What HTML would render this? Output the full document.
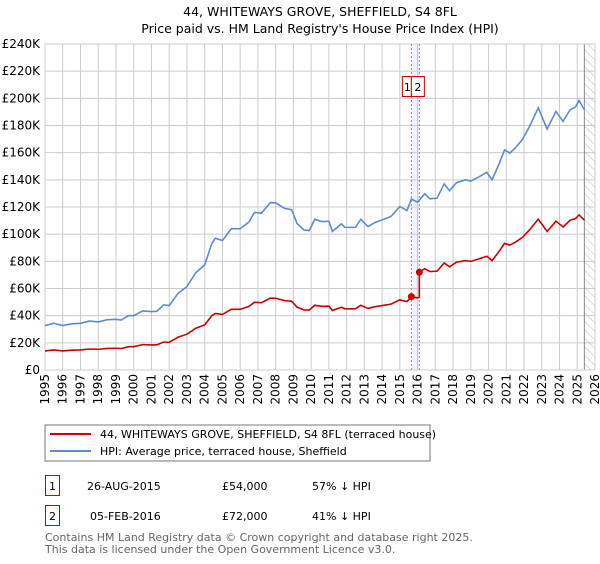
<!DOCTYPE html>
<html><head><meta charset="utf-8"><style>
body{margin:0;background:#fff;width:600px;height:560px;overflow:hidden;font-family:"DejaVu Sans","Liberation Sans",sans-serif;}
svg text{font-family:"DejaVu Sans","Liberation Sans",sans-serif;}
</style></head><body>
<svg id="chart" width="600" height="560" xmlns="http://www.w3.org/2000/svg">
<defs><pattern id="hatch" width="6" height="6" patternUnits="userSpaceOnUse" patternTransform="rotate(-45)"><line x1="0" y1="0" x2="0" y2="6" stroke="#bbb" stroke-width="1"/></pattern></defs>
<text x="320" y="16" text-anchor="middle" font-size="12.5" fill="#000">44, WHITEWAYS GROVE, SHEFFIELD, S4 8FL</text>
<text x="320" y="33" text-anchor="middle" font-size="12.5" fill="#000">Price paid vs. HM Land Registry's House Price Index (HPI)</text>
<g id="grid"></g><g id="marks"></g><g id="axes"></g>
<rect x="45" y="425" width="385" height="36" fill="#fff" stroke="#777"/>
<line x1="50" y1="434" x2="91" y2="434" stroke="#cc0000" stroke-width="2"/>
<text x="100" y="438" font-size="11">44, WHITEWAYS GROVE, SHEFFIELD, S4 8FL (terraced house)</text>
<line x1="50" y1="451" x2="91" y2="451" stroke="#5b8bd0" stroke-width="2"/>
<text x="100" y="455" font-size="11">HPI: Average price, terraced house, Sheffield</text>
<g>
<rect x="45.5" y="475.5" width="14" height="20" fill="none" stroke="#cc0000"/><text x="52.5" y="490" text-anchor="middle" font-size="11">1</text>
<text x="87" y="490" font-size="11">26-AUG-2015</text><text x="222" y="490" font-size="11">£54,000</text><text x="312" y="490" font-size="11">57% ↓ HPI</text></g>
<g>
<rect x="45.5" y="505.5" width="14" height="20" fill="none" stroke="#cc0000"/><text x="52.5" y="520" text-anchor="middle" font-size="11">2</text>
<text x="90" y="520" font-size="11">05-FEB-2016</text><text x="222" y="520" font-size="11">£72,000</text><text x="312" y="520" font-size="11">41% ↓ HPI</text></g>
<text x="45" y="541" font-size="11" fill="#666">Contains HM Land Registry data © Crown copyright and database right 2025.</text>
<text x="45" y="553" font-size="11" fill="#666">This data is licensed under the Open Government Licence v3.0.</text>
</svg>
<script>
const yTicks=[0,20,40,60,80,100,120,140,160,180,200,220,240];
const xYears=[1995,1996,1997,1998,1999,2000,2001,2002,2003,2004,2005,2006,2007,2008,2009,2010,2011,2012,2013,2014,2015,2016,2017,2018,2019,2020,2021,2022,2023,2024,2025,2026];
const hpiDates=[1995.0,1995.5,1996.0,1996.5,1997.0,1997.5,1998.0,1998.5,1999.0,1999.3,1999.7,2000.0,2000.5,2001.0,2001.3,2001.7,2002.0,2002.5,2003.0,2003.5,2004.0,2004.4,2004.6,2005.0,2005.5,2006.0,2006.5,2006.8,2007.2,2007.7,2008.0,2008.5,2008.9,2009.2,2009.6,2009.9,2010.2,2010.6,2011.0,2011.2,2011.7,2011.9,2012.5,2012.8,2013.2,2013.6,2014.0,2014.5,2015.0,2015.4,2015.65,2016.0,2016.4,2016.7,2017.1,2017.5,2017.8,2018.2,2018.7,2019.0,2019.5,2019.9,2020.2,2020.6,2020.9,2021.2,2021.5,2021.9,2022.3,2022.8,2023.3,2023.8,2024.2,2024.6,2024.9,2025.1,2025.4];
const hpiValues=[32.7,34.4,32.7,34,34.4,36,35.4,37,37.3,36.8,40,40,43.5,43,43.2,48,47.4,56.5,61.4,71.7,77.4,93,97,95.3,104,104,109,116,115.5,123.3,123,119,118,108,103,102.7,111,109.3,109.5,102,107.6,105,105,111,105.6,108.6,110.5,113,120.4,117.4,125.8,123.6,129.7,126,126.5,137,132,138,140,139,142.5,145.5,140,152,162,159.7,163.4,169.5,179,193,177.4,190.4,183,191.6,193.6,198.5,191.6];
const saleDates=[2015.65,2016.10];
const salePrices=[54,72];
const saleLabels=["1","2"];
const NS="http://www.w3.org/2000/svg";
const X0=45,X1=595,Y0=370,Y1=44;
const xs=d=>X0+(d-1995)/(2026-1995)*(X1-X0);
const ys=v=>Y0-v/240*(Y0-Y1);
function mk(tag,attrs,parent){const e=document.createElementNS(NS,tag);for(const k in attrs)e.setAttribute(k,attrs[k]);parent.appendChild(e);return e;}
const grid=document.getElementById('grid'),marks=document.getElementById('marks'),axes=document.getElementById('axes');
function hpiAt(d){for(let i=0;i<hpiDates.length-1;i++){if(d>=hpiDates[i]&&d<=hpiDates[i+1]){const t=(d-hpiDates[i])/(hpiDates[i+1]-hpiDates[i]);return hpiValues[i]+t*(hpiValues[i+1]-hpiValues[i]);}}return hpiValues[hpiValues.length-1];}
// shading between sales
const sh=mk('rect',{x:xs(saleDates[0]),y:Y1,width:xs(saleDates[1])-xs(saleDates[0]),height:Y0-Y1,fill:'#eef3fc'},grid);


yTicks.forEach(v=>{
 const l=mk('line',{x1:X0,x2:X1,y1:ys(v),y2:ys(v),stroke:'#ccc','stroke-width':1},grid);
 
 
 const t=mk('text',{x:40,y:ys(v)+4,'text-anchor':'end','font-size':12},axes);
 t.textContent=v===0?'£0':'£'+v+'K';
 
 
});
xYears.forEach(y=>{
 const l=mk('line',{x1:xs(y),x2:xs(y),y1:Y1,y2:Y0,stroke:'#ccc','stroke-width':1},grid);
 
 
 const t=mk('text',{x:0,y:0,'text-anchor':'end','font-size':12,transform:`translate(${xs(y)+4},374) rotate(-90)`},axes);
 t.textContent=y;
 
 
});
// hatched future region
const lastD=hpiDates[hpiDates.length-1];
const hz=mk('rect',{x:xs(lastD),y:Y1,width:X1-xs(lastD),height:Y0-Y1,fill:'url(#hatch)'},grid);


const hl=mk('line',{x1:xs(lastD),x2:xs(lastD),y1:Y1,y2:Y0,stroke:'#888'},grid);


const ax=mk('rect',{x:X0,y:Y1,width:X1-X0,height:Y0-Y1,fill:'none',stroke:'#ccc'},grid);


// sale verticals
saleDates.forEach((d,i)=>{
 const l=mk('line',{x1:xs(d),x2:xs(d),y1:Y1,y2:Y0,stroke:'#ee6666','stroke-dasharray':'2,2'},marks);
 
 
});
// hpi line
const hp=mk('polyline',{points:hpiDates.map((d,i)=>xs(d)+','+ys(hpiValues[i])).join(' '),fill:'none',stroke:'#5b8bd0','stroke-width':1.6},marks);


// price line: indexed to sale prices
const h0=hpiAt(saleDates[0]),h1=hpiAt(saleDates[1]);
const pts=[];
hpiDates.forEach((d,i)=>{if(d<=saleDates[1])pts.push([d,hpiValues[i]*salePrices[0]/h0]);});
pts.push([saleDates[1],salePrices[0]*h1/h0]);
pts.push([saleDates[1],salePrices[1]]);
hpiDates.forEach((d,i)=>{if(d>saleDates[1])pts.push([d,hpiValues[i]*salePrices[1]/h1]);});
const pl=mk('polyline',{points:pts.map(p=>xs(p[0])+','+ys(p[1])).join(' '),fill:'none',stroke:'#cc0000','stroke-width':1.6},marks);


saleDates.forEach((d,i)=>{
 const c=mk('circle',{cx:xs(d),cy:ys(salePrices[i]),r:3.5,fill:'#cc0000'},marks);
 
 
 const bx=i===0?xs(d)-9:xs(d)-8;
 const r=mk('rect',{x:bx,y:76.5,width:i===0?9:13,height:20,fill:'#fff',stroke:'#cc0000'},marks);
 
 
 const t=mk('text',{x:i===0?bx+5:bx+6.5,y:91,'text-anchor':'middle','font-size':11},marks);
 t.textContent=saleLabels[i];
 
 
});
</script>
</body></html>
